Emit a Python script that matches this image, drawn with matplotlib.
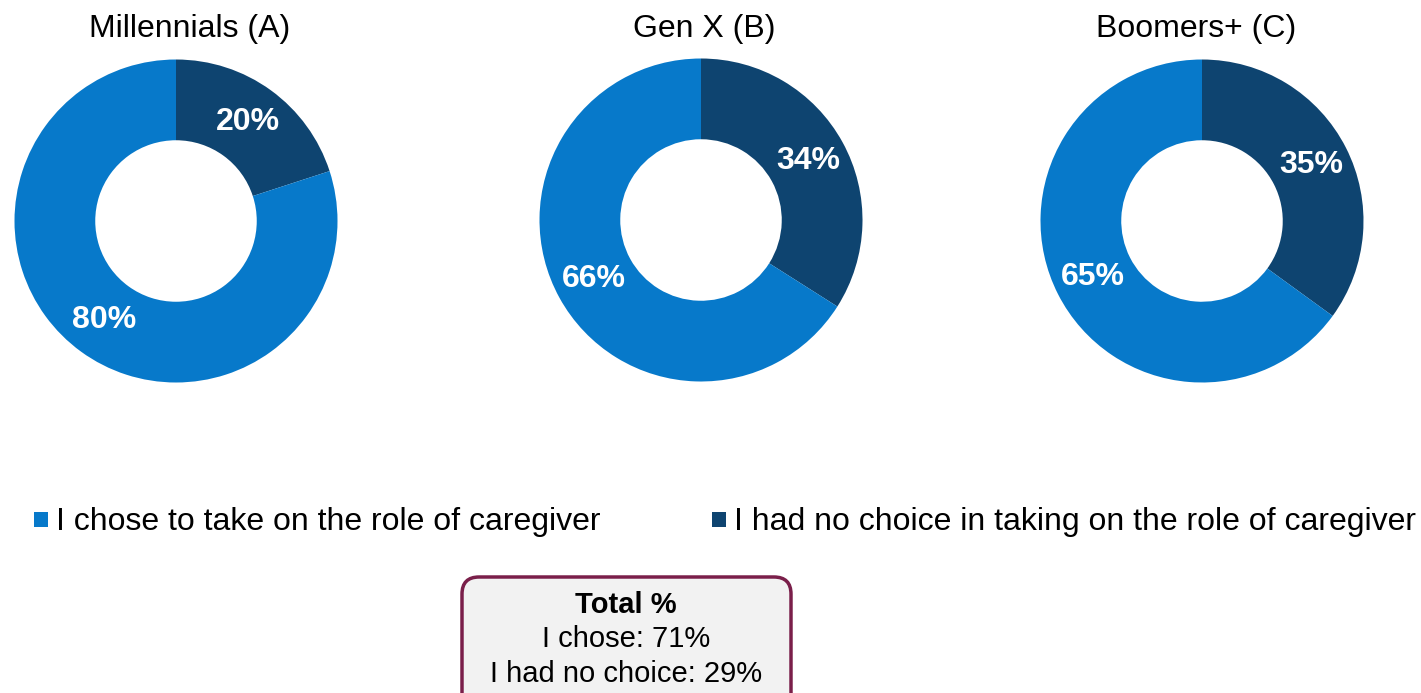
import matplotlib.pyplot as plt
from matplotlib.patches import FancyBboxPatch

plt.rcParams['font.family'] = ['Liberation Sans', 'DejaVu Sans']

# data
groups = ['Millennials (A)', 'Gen X (B)', 'Boomers+ (C)']
no_choice = [20, 34, 35]
chose = [80, 66, 65]
legend_labels = ['I chose to take on the role of caregiver',
                 'I had no choice in taking on the role of caregiver']
total_lines = ['Total %', 'I chose: 71%', 'I had no choice: 29%']

light = '#0779CA'
dark = '#0E4470'

W, H = 1421, 693
fig = plt.figure(figsize=(W / 100, H / 100), dpi=100)

centers = [(176, 221), (701, 220), (1202, 221)]
title_x = [190, 704, 1196]
R = 161.5

for i, g in enumerate(groups):
    cx, cy = centers[i]
    ax = fig.add_axes([(cx - R) / W, 1 - (cy + R) / H, 2 * R / W, 2 * R / H])
    wedges, texts, autotexts = ax.pie(
        [no_choice[i], chose[i]], colors=[dark, light], startangle=90,
        counterclock=False, radius=1,
        wedgeprops=dict(width=0.5, edgecolor='none'),
        autopct='%d%%', pctdistance=0.76,
        textprops=dict(color='white', fontsize=23, fontweight='bold'))
    ax.set_xlim(-1, 1)
    ax.set_ylim(-1, 1)
    ax.axis('off')
    fig.text(title_x[i] / W, 1 - 29 / H, g, ha='center', va='center', fontsize=23)

# legend
lx = [34, 712]
for j, lab in enumerate(legend_labels):
    col = light if j == 0 else dark
    fig.patches.append(plt.Rectangle((lx[j] / W, 1 - 527 / H), 14 / W, 15 / H,
                                     transform=fig.transFigure, facecolor=col,
                                     edgecolor='none'))
    fig.text((lx[j] + 22) / W, 1 - 522 / H, lab, ha='left', va='center', fontsize=23)

# total box
box = FancyBboxPatch((462 / W, -20 / H), 329 / W, 136 / H,
                     boxstyle='round,pad=0,rounding_size=0.012',
                     transform=fig.transFigure, facecolor='#F2F2F2',
                     edgecolor='#7A1F4A', linewidth=2.5, mutation_aspect=W / H)
fig.patches.append(box)
ys = [605, 639, 674]
for k, t in enumerate(total_lines):
    fig.text(626 / W, 1 - ys[k] / H, t, ha='center', va='center', fontsize=21,
             fontweight='bold' if k == 0 else 'normal')

fig.savefig('out.png', dpi=100)
